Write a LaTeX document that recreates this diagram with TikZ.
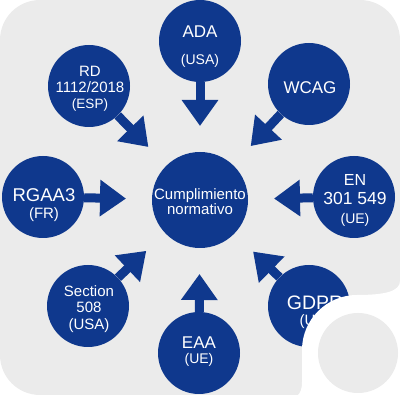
\documentclass[tikz,border=0pt]{standalone}
\usepackage{fontspec}
\setmainfont{Liberation Sans}
\usetikzlibrary{arrows.meta,calc}
\definecolor{bgray}{RGB}{235,235,235}
\definecolor{nblue}{RGB}{15,56,141}
\newcommand\fs[2]{{\fontsize{#1}{#1}\selectfont #2}}
\begin{document}
\begin{tikzpicture}[x=1pt,y=1pt,
  std/.style={circle,fill=nblue,inner sep=0pt,minimum size=82pt},
  txt/.style={text=white,inner sep=0pt,align=center},
  arr/.style={draw=nblue,line width=9pt,-{Triangle[length=26pt,width=35pt,fill=nblue]}}]
\useasboundingbox (0,0) rectangle (400,-395);
\fill[bgray,rounded corners=40pt] (0,0) rectangle (400,-395);
% center
\node[std,minimum size=96pt] (c) at (200,-200) {};
\node[txt,font=\fontsize{15}{15.5}\selectfont] (ct) at (200,-201.5) {Cumplimiento\\normativo};
% outer circles
\node[std] (ada) at (200,-41) {};
\node[std] (wcag) at (309,-84) {};
\node[std] (en) at (354,-197) {};
\node[std] (gdpr) at (309,-306) {};
\node[std] (eaa) at (199,-353) {};
\node[std] (sec) at (88,-306) {};
\node[std] (rgaa) at (43,-197) {};
\node[std] (rd) at (89,-86) {};
% texts
\node[txt,font=\fontsize{17}{27}\selectfont] (ada-t) at (200,-46.5) {ADA\\\fs{14}{(USA)}};
\node[txt,font=\fontsize{17}{19}\selectfont] (wcag-t) at (310,-87.5) {WCAG};
\node[txt,font=\fontsize{17.5}{19}\selectfont] (en-t) at (355,-200) {\fs{16}{EN}\\301 549\\\fs{14}{(UE)}};
\node[txt,font=\fontsize{19.5}{16}\selectfont] (gdpr-t) at (315,-312) {GDPR\\\fs{15}{(UE)}};
\node[txt,font=\fontsize{17}{15}\selectfont] (eaa-t) at (199,-352) {EAA\\\fs{14}{(UE)}};
\node[txt,font=\fontsize{15}{16.5}\selectfont] (sec-t) at (89,-309) {Section\\508\\(USA)};
\node[txt,font=\fontsize{18.5}{17}\selectfont] (rgaa-t) at (44,-205) {RGAA3\\\fs{15}{(FR)}};
\node[txt,font=\fontsize{15}{16}\selectfont] (rd-t) at (90,-89) {RD\\1112/2018\\\fs{13.5}{(ESP)}};
% arrows
\foreach \n in {ada,wcag,en,gdpr,eaa,sec,rgaa,rd}{
  \coordinate (t-\n) at ($(c.center)!74pt!(\n.center)$);
  \draw[arr] (\n) -- (t-\n);
}
% bottom-right notch
\fill[white] (400,-281) .. controls (400,-291) and (386,-295) .. (357,-295)
  arc[start angle=90,end angle=180,radius=55]
  -- (302,-382) .. controls (302,-390) and (300,-393) .. (298,-395)
  -- (400,-395) -- cycle;
\fill[bgray] (358,-353) circle[radius=40];
\end{tikzpicture}
\end{document}
